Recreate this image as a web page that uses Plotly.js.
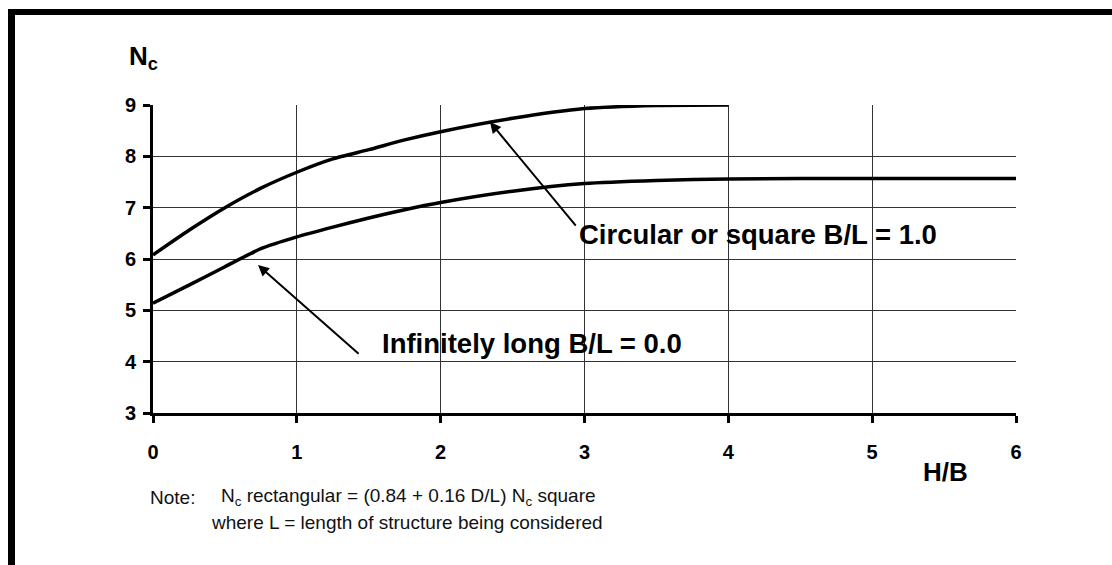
<!DOCTYPE html>
<html>
<head>
<meta charset="utf-8">
<script src="https://cdn.plot.ly/plotly-3.0.1.min.js"></script>
<style>
html,body{margin:0;padding:0;background:#fff;}
#chart{width:1112px;height:565px;}
</style>
</head>
<body>
<div id="chart"></div>
<script>
// H/B values and Nc values
const hbCircular = [0, 0.25, 0.5, 0.75, 1, 1.25, 1.5, 1.75, 2, 2.5, 3, 3.5, 4];
const ncCircular = [6.08, 6.56, 7.0, 7.38, 7.69, 7.95, 8.13, 8.32, 8.48, 8.74, 8.93, 8.99, 9.0];
const hbInfinite = [0, 0.25, 0.5, 0.75, 1, 1.25, 1.5, 1.75, 2, 2.5, 3, 3.5, 4, 5, 6];
const ncInfinite = [5.14, 5.49, 5.85, 6.2, 6.43, 6.62, 6.8, 6.96, 7.1, 7.32, 7.47, 7.53, 7.56, 7.57, 7.57];
const xTicks = [0, 1, 2, 3, 4, 5, 6];
const yTicks = [3, 4, 5, 6, 7, 8, 9];
const labelCircular = "Circular or square B/L = 1.0";
const labelInfinite = "Infinitely long B/L = 0.0";
const noteHead = "Note:";
const noteLine1 = "N<sub>c</sub> rectangular = (0.84 + 0.16 D/L) N<sub>c</sub> square";
const noteLine2 = "where L = length of structure being considered";

const W = 1112, H = 565;
const M = {l: 153, r: 96, t: 105, b: 152};
const pw = W - M.l - M.r, ph = H - M.t - M.b;
const px = v => (v - M.l) / pw;          // pixel x -> paper
const py = v => (H - M.b - v) / ph;      // pixel y -> paper

const FONT = "Liberation Sans, Arial, sans-serif";

const traces = [
  {x: hbCircular, y: ncCircular, mode: "lines", line: {color: "#000", width: 3.5, shape: "spline", smoothing: 0.6}, hoverinfo: "skip", cliponaxis: false},
  {x: hbInfinite, y: ncInfinite, mode: "lines", line: {color: "#000", width: 3.5, shape: "spline", smoothing: 0.6}, hoverinfo: "skip", cliponaxis: false}
];

const layout = {
  width: W, height: H,
  margin: M,
  showlegend: false,
  paper_bgcolor: "#fff",
  plot_bgcolor: "#fff",
  font: {family: FONT, color: "#000"},
  xaxis: {
    range: [0, 6], tickvals: xTicks, ticktext: xTicks.map(String),
    showgrid: true, gridcolor: "#333", gridwidth: 1,
    showline: true, linecolor: "#000", linewidth: 2.5,
    ticks: "outside", ticklen: 7, tickwidth: 3, tickcolor: "#000",
    ticklabelstandoff: 12,
    tickfont: {family: FONT, size: 20, weight: 700, color: "#000"},
    zeroline: false, fixedrange: true
  },
  yaxis: {
    range: [3, 9], tickvals: yTicks, ticktext: yTicks.map(String),
    showgrid: true, gridcolor: "#333", gridwidth: 1,
    showline: true, linecolor: "#000", linewidth: 3,
    ticks: "outside", ticklen: 7, tickwidth: 3, tickcolor: "#000",
    ticklabelstandoff: 3,
    tickfont: {family: FONT, size: 20, weight: 700, color: "#000"},
    zeroline: false, fixedrange: true
  },
  shapes: [
    {type: "rect", xref: "paper", yref: "paper", x0: px(8), x1: px(W), y0: py(9), y1: py(15), fillcolor: "#000", line: {width: 0}, layer: "above"},
    {type: "rect", xref: "paper", yref: "paper", x0: px(8), x1: px(15), y0: py(9), y1: py(H), fillcolor: "#000", line: {width: 0}, layer: "above"}
  ],
  annotations: [
    {xref: "paper", yref: "paper", x: px(127), y: py(58), xanchor: "left", yanchor: "middle", showarrow: false,
     text: "N<sub>c</sub>", font: {family: FONT, size: 26, weight: 700, color: "#000"}},
    {xref: "paper", yref: "paper", x: px(945), y: py(472), xanchor: "center", yanchor: "middle", showarrow: false,
     text: "H/B", font: {family: FONT, size: 26, weight: 700, color: "#000"}},
    // arrows (head on curve, tail at label)
    {x: 2.343, y: 8.669, ax: 2.948, ay: 6.62, xref: "x", yref: "y", axref: "x", ayref: "y", text: "", showarrow: true,
     arrowhead: 2, arrowsize: 1.1, arrowwidth: 2, arrowcolor: "#000"},
    {x: 0.73, y: 5.883, ax: 1.44, ay: 4.13, xref: "x", yref: "y", axref: "x", ayref: "y", text: "", showarrow: true,
     arrowhead: 2, arrowsize: 1.1, arrowwidth: 2, arrowcolor: "#000"},
    {x: 2.948, y: 6.47, xref: "x", yref: "y", xanchor: "left", yanchor: "middle", showarrow: false,
     text: labelCircular, font: {family: FONT, size: 27.5, weight: 700, color: "#000"}},
    {x: 1.579, y: 4.36, xref: "x", yref: "y", xanchor: "left", yanchor: "middle", showarrow: false,
     text: labelInfinite, font: {family: FONT, size: 27.5, weight: 700, color: "#000"}},
    {xref: "paper", yref: "paper", x: px(148), y: py(497), xanchor: "left", yanchor: "middle", showarrow: false,
     text: noteHead, font: {family: FONT, size: 19, color: "#111"}},
    {xref: "paper", yref: "paper", x: px(219), y: py(497), xanchor: "left", yanchor: "middle", showarrow: false,
     text: noteLine1, font: {family: FONT, size: 19, color: "#111"}},
    {xref: "paper", yref: "paper", x: px(209), y: py(522), xanchor: "left", yanchor: "middle", showarrow: false,
     text: noteLine2, font: {family: FONT, size: 19, color: "#111"}}
  ]
};

Plotly.newPlot("chart", traces, layout, {staticPlot: true, displayModeBar: false});
</script>
</body>
</html>
